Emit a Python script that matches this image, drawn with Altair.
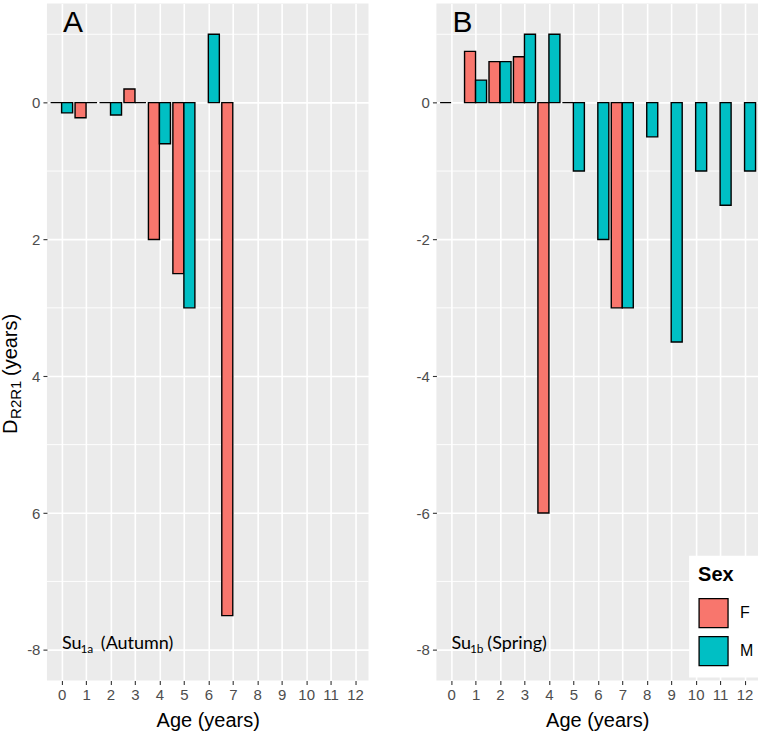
import altair as alt
import pandas as pd

# Axis breaks
AGE_TICKS = list(range(0, 13))
Y_MAJOR = [-8, -6, -4, -2, 0]
Y_MINOR = [-7, -5, -3, -1, 1]

# Panel A: Su1a (Autumn)
a_f_age = [0, 1, 2, 3, 4, 5, 7]
a_f_val = [0.0, -0.22, 0.0, 0.2, -2.0, -2.5, -7.5]
a_m_age = [0, 1, 2, 3, 4, 5, 6]
a_m_val = [-0.15, 0.0, -0.18, 0.0, -0.6, -3.0, 1.0]

# Panel B: Su1b (Spring)
b_f_age = [0, 1, 2, 3, 4, 5, 7]
b_f_val = [0.0, 0.75, 0.6, 0.67, -6.0, 0.0, -3.0]
b_m_age = [1, 2, 3, 4, 5, 6, 7, 8, 9, 10, 11, 12]
b_m_val = [0.33, 0.6, 1.0, 1.0, -1.0, -2.0, -3.0, -0.5, -3.5, -1.0, -1.5, -1.0]

SEXES = ["F", "M"]
SEX_COLORS = ["#F8766D", "#00BFC4"]
DODGE = 0.45  # half of the dodge width: F sits left of the age, M right

W, H = 322, 678
SANS = "Liberation Sans"
NOTE_FONT = "Lato"


def bars_frame(f_age, f_val, m_age, m_val):
    f = pd.DataFrame({"age": f_age, "value": f_val})
    f["Sex"] = "F"
    f["x0"] = f["age"] - DODGE
    f["x1"] = f["age"]
    m = pd.DataFrame({"age": m_age, "value": m_val})
    m["Sex"] = "M"
    m["x0"] = m["age"]
    m["x1"] = m["age"] + DODGE
    return pd.concat([f, m], ignore_index=True)


def text_layer(text, x, y, size, font=SANS, angle=0, weight="normal"):
    return alt.Chart(pd.DataFrame({"t": [text]})).mark_text(
        align="left", baseline="alphabetic", fontSize=size, font=font,
        angle=angle, fontWeight=weight, color="black",
    ).encode(text="t:N", x=alt.value(x), y=alt.value(y))


x_scale = alt.Scale(domain=[-0.6, 12.55], nice=False, zero=False)
y_scale = alt.Scale(domain=[-8.45, 1.45], nice=False, zero=False)


def panel(df, label_expr, letter, site_sub, season, sub_x, season_x, legend, extra=()):
    y_axis = alt.Axis(values=Y_MAJOR, labelExpr=label_expr, title=None, grid=True)

    # thin white lines half-way between the labelled breaks
    minor = alt.Chart(pd.DataFrame({"y": Y_MINOR})).mark_rule(
        color="white", strokeWidth=0.9
    ).encode(y=alt.Y("y:Q", scale=y_scale, axis=y_axis))

    bars = alt.Chart(df).mark_rect(stroke="black", strokeWidth=1.4).encode(
        x=alt.X("x0:Q", scale=x_scale,
                axis=alt.Axis(values=AGE_TICKS, title="Age (years)", grid=True,
                              labelFlush=False, labelOverlap=False)),
        x2="x1:Q",
        y=alt.Y("value:Q", scale=y_scale, axis=y_axis),
        y2=alt.datum(0),
        color=alt.Color("Sex:N", scale=alt.Scale(domain=SEXES, range=SEX_COLORS),
                        legend=legend),
    )

    layers = [minor, bars,
              text_layer(letter, 16, 29, 30),
              text_layer("Su", 15, 646, 18, NOTE_FONT),
              text_layer(site_sub, sub_x, 650, 12, NOTE_FONT),
              text_layer(season, season_x, 646, 18, NOTE_FONT)]
    layers.extend(extra)
    return alt.layer(*layers).properties(width=W, height=H)


# Rotated y title with subscript, built from pieces
y_title = [
    text_layer("D", -30, 431, 20, angle=270),
    text_layer("R2R1", -26, 416, 15, angle=270),
    text_layer("(years)", -30, 373, 20, angle=270),
    alt.Chart(pd.DataFrame({"a": [0]})).mark_rect(opacity=0).encode(
        x=alt.value(-47), x2=alt.value(-46), y=alt.value(0), y2=alt.value(1)),
]

legend_b = alt.Legend(
    orient="none", legendX=253, legendY=553, title="Sex",
    titleFont=SANS, titleFontSize=20, titleFontWeight="bold", titleColor="black",
    titlePadding=13, labelFont=SANS, labelFontSize=16, labelColor="black",
    labelOffset=11, symbolType="square", symbolSize=841,
    symbolStrokeColor="black", symbolStrokeWidth=1.3, symbolOpacity=1,
    fillColor="white", padding=9, rowPadding=3,
)

panel_a = panel(
    bars_frame(a_f_age, a_f_val, a_m_age, a_m_val),
    "datum.value == -8 ? '-8' : format(abs(datum.value), 'd')",
    "A", "1a", "(Autumn)", 33.5, 54, None, y_title,
)
panel_b = panel(
    bars_frame(b_f_age, b_f_val, b_m_age, b_m_val),
    "datum.value < 0 ? '-' + format(abs(datum.value), 'd') : '0'",
    "B", "1b", "(Spring)", 33.5, 51, legend_b,
)

chart = alt.hconcat(panel_a, panel_b, spacing=68, bounds="flush").resolve_scale(
    color="independent"
).resolve_legend(color="independent").properties(
    padding={"left": 0, "top": 3, "right": 0, "bottom": 0}
).configure_view(fill="#EBEBEB", stroke=None).configure_axis(
    domain=False, tickColor="#333333", tickSize=4, tickWidth=1.1,
    labelColor="#4D4D4D", labelFont=SANS, labelFontSize=15, labelPadding=3,
    gridColor="white", gridWidth=1.6,
    titleFont=SANS, titleFontSize=20, titleFontWeight="normal", titleColor="black",
).configure_axisX(titlePadding=8)

chart.save("out.html", embed_options={"renderer": "svg", "actions": False})
